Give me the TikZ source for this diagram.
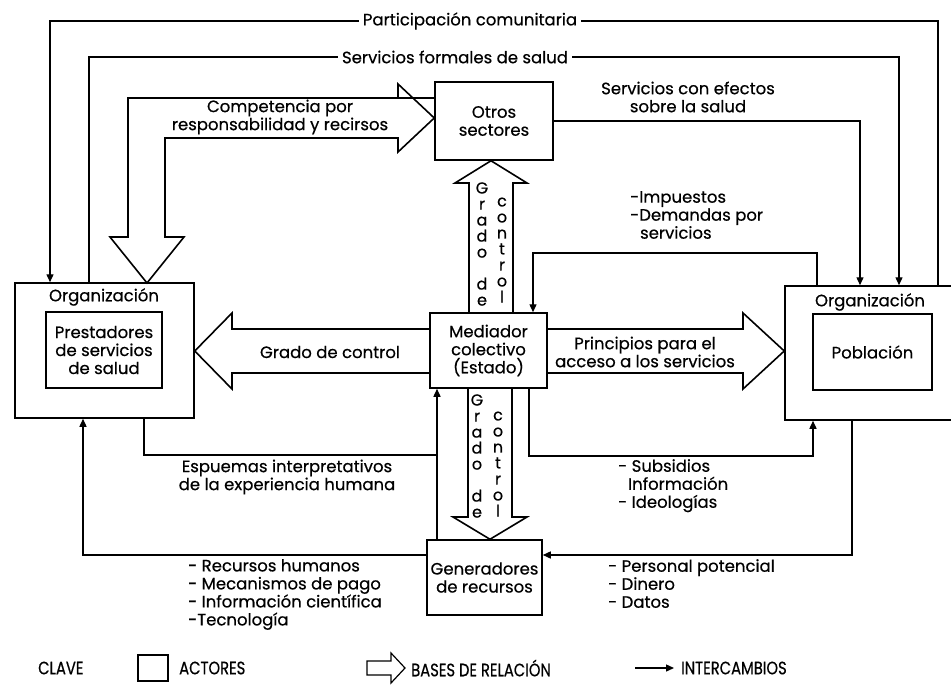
\documentclass[tikz,border=0pt]{standalone}
\usepackage{fontspec}
\setmainfont{Poppins}[FakeBold=0.5]
\newfontfamily\legfont{Poppins}[FakeStretch=0.82, FakeBold=0.5]
\usetikzlibrary{arrows.meta,fit}
\begin{document}
\begin{tikzpicture}[x=1pt,y=-1pt,
  every node/.style={font=\fontsize{16.5}{18}\selectfont},
  actor/.style={draw, line width=1.5pt, inner sep=0pt},
  ex/.style={line width=1.4pt, -{Triangle[length=8pt,width=7pt]}},
  plainline/.style={line width=1.4pt},
  base/.style={draw, line width=1.6pt, line join=miter},
  lbl/.style={align=center, inner sep=1pt},
  lbll/.style={align=left, inner sep=0pt, anchor=north west},
  vtxt/.style={align=center, inner sep=0pt, font=\fontsize{16}{16}\selectfont},
  leg/.style={font=\legfont\fontsize{18}{20}\selectfont, anchor=west, inner sep=0pt}]
\path[use as bounding box] (0,0) rectangle (951,686);
\clip (0,0) rectangle (951,686);

% actors
\node[actor, fit={(15,283)(194,418)}] (orgL) {};
\node[actor, fit={(46,312)(162,388)}] (prest) {};
\node[actor, fit={(785,286)(1000,420)}] (orgR) {};
\node[actor, fit={(813,314)(932,390)}] (pob) {};
\node[actor, fit={(435,82)(553,160)}] (otros) {};
\node[actor, fit={(430,313)(547,388)}] (med) {};
\node[actor, fit={(427,540)(542,615)}] (gen) {};

% exchanges
\draw[ex] (orgR.north -| 938,0) |- (50,21) -- (orgL.north -| 50,0);
\draw[ex] (orgL.north -| 89,0) |- (899,57) -- (orgR.north -| 899,0);
\draw[ex] (otros.east) -| (orgR.north -| 860,0);
\draw[ex] (orgR.north -| 817,0) |- (533,253) -- (med.north -| 533,0);
\draw[ex] (med.south -| 529,0) |- (813,456) -- (orgR.south -| 813,0);
\draw[plainline] (orgL.south -| 144,0) |- (437,455);
\draw[ex] (gen.north -| 437,0) -- (med.south -| 437,0);
\draw[ex] (gen.west |- 0,555) -| (orgL.south -| 83,0);
\draw[ex] (orgR.south -| 852,0) |- (gen.east |- 0,555);

% relation bases (hollow arrows)
\draw[base] (otros.west |- 0,98) -- (128,98) -- (128,237) -- (110,237) -- (147,283)
  -- (184,237) -- (165,237) -- (165,138) -- (398,138) -- (398,152) -- (otros.west |- 0,118)
  -- (398,84) -- (398,98);
\draw[base] (med.west |- 0,329) -- (232,329) -- (232,313) -- (orgL.east |- 0,351)
  -- (232,389) -- (232,373) -- (med.west |- 0,373);
\draw[base] (med.east |- 0,329) -- (743,329) -- (743,313) -- (orgR.west |- 0,351)
  -- (743,389) -- (743,373) -- (med.east |- 0,373);
\draw[base] (med.north -| 469,0) -- (469,183) -- (455,183) -- (otros.south -| 491,0)
  -- (527,183) -- (513,183) -- (med.north -| 513,0);
\draw[base] (med.south -| 468,0) -- (468,517) -- (453,517) -- (gen.north -| 490,0)
  -- (527,517) -- (512,517) -- (med.south -| 512,0);

% labels
\node[lbl, fill=white, inner xsep=4pt] (part) at (470,21) {Participación comunitaria};
\node[lbl, fill=white, inner xsep=4pt] (sfs) at (455,57) {Servicios formales de salud};
\node[lbl] (comp) at (280,117) {Competencia por\\responsabilidad y recirsos};
\node[lbl] (sce) at (688,97) {Servicios con efectos\\sobre la salud};
\node[lbl] (otrost) at (otros.center) {Otros\\sectores};
\node[lbll] (imp) at (630,191) {-Impuestos\\-Demandas por\\\hspace*{0.6em}servicios};
\node[lbl] (orgLt) at (104,297) {Organización};
\node[lbl] (prestt) at (prest.center) {Prestadores\\de servicios\\de salud};
\node[lbl] (orgRt) at (870,302) {Organización};
\node[lbl] (pobt) at (pob.center) {Población};
\node[lbl] (gdc) at (330,352) {Grado de control};
\node[lbl] (medt) at (med.center) {Mediador\\colectivo\\(Estado)};
\node[lbl] (prin) at (645,352) {Principios para el\\acceso a los servicios};
\node[lbl] (esq) at (287,477) {Espuemas interpretativos\\de la experiencia humana};
\node[lbll] (sub) at (618,459) {- Subsidios\\\hspace*{0.6em}Información\\- Ideologías};
\node[lbl] (gent) at (gen.center) {Generadores\\de recursos};
\node[lbll] (rec) at (188,559) {- Recursos humanos\\- Mecanismos de pago\\- Información científica\\-Tecnología};
\node[lbll] (pers) at (608,559) {- Personal potencial\\- Dinero\\- Datos};

% vertical texts
\node[vtxt] (v1) at (482,244) {G\\r\\a\\d\\o\\~\\d\\e};
\node[vtxt] (v2) at (502,250) {c\\o\\n\\t\\r\\o\\l};
\node[vtxt] (v3) at (477,456) {G\\r\\a\\d\\o\\~\\d\\e};
\node[vtxt] (v4) at (498,464) {c\\o\\n\\t\\r\\o\\l};

% legend
\node[leg] (clave) at (38,668) {CLAVE};
\node[actor, line width=1.2pt, fit={(138,655)(168,681)}] (legact) {};
\node[leg] (actores) at (179,668) {ACTORES};
\draw[base, line width=1.2pt] (367,661) -- (391,661) -- (391,653) -- (405,668) -- (391,683)
  -- (391,675) -- (367,675) -- cycle;
\node[leg] (bases) at (411,668) {BASES DE RELACIÓN};
\coordinate (lx1) at (635,668);
\coordinate (lx2) at (674,668);
\draw[ex] (lx1) -- (lx2);
\node[leg] (inter) at (681,668) {INTERCAMBIOS};
\end{tikzpicture}
\end{document}
